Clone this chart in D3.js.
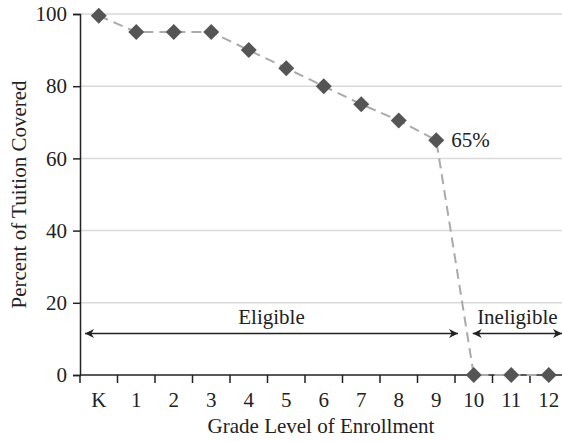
<!DOCTYPE html>
<html><head><meta charset="utf-8">
<script src="https://cdn.jsdelivr.net/npm/d3@7"></script>
<style>body{margin:0;background:#fff}svg{display:block}text{font-family:"Liberation Serif","Times New Roman",serif;fill:#222}</style>
</head><body><div id="c"></div>
<script>
const grades = ["K","1","2","3","4","5","6","7","8","9","10","11","12"];
const percentCovered = [99.5,95,95,95,90,85,80,75,70.5,65,0,0,0];
const yTicks = [0,20,40,60,80,100];
const eligibleRange = ["K","9"];
const ineligibleRange = ["10","12"];
const labelText = "65%";

const W=562,H=442;
const m={l:80,t:14,b:67};
const FS=21;
const svg=d3.select("#c").append("svg").attr("width",W).attr("height",H);
const x=d3.scaleBand().domain(grades).range([m.l,m.l+13*37.5]);
const y=d3.scaleLinear().domain([0,100]).range([H-m.b,m.t]);

// gridlines
svg.append("g").selectAll("line").data(yTicks.filter(d=>d>0)).join("line")
  .attr("x1",m.l).attr("x2",W).attr("y1",d=>y(d)).attr("y2",d=>y(d))
  .attr("stroke","#d9d9d9").attr("stroke-width",1.5);

// y axis
const ya=svg.append("g").attr("transform",`translate(${m.l},0)`)
  .call(d3.axisLeft(y).tickValues(yTicks).tickSize(7).tickPadding(6));
ya.select(".domain").attr("stroke","#222").attr("stroke-width",1.5);
ya.selectAll(".tick line").attr("stroke","#222").attr("stroke-width",1.5);
ya.selectAll("text").attr("font-size",FS).style("font-family","Liberation Serif").attr("fill","#222");

// x axis
const xa=svg.append("g").attr("transform",`translate(0,${y(0)})`);
xa.append("line").attr("x1",m.l).attr("x2",W).attr("stroke","#222").attr("stroke-width",1.5);
const bounds=grades.map(g=>x(g));
xa.selectAll(".tk").data(bounds).join("line").attr("class","tk")
  .attr("x1",d=>d).attr("x2",d=>d).attr("y1",0).attr("y2",8).attr("stroke","#222").attr("stroke-width",1.5);
xa.selectAll(".lb").data(grades).join("text").attr("class","lb")
  .attr("x",d=>x(d)+x.bandwidth()/2).attr("y",32).attr("text-anchor","middle").attr("font-size",FS).text(d=>d);

// line
const line=d3.line().x((d,i)=>x(grades[i])+x.bandwidth()/2).y(d=>y(d));
svg.append("path").datum(percentCovered).attr("d",line).attr("fill","none")
  .attr("stroke","#aaaaaa").attr("stroke-width",2).attr("stroke-dasharray","10,6");

// diamonds
svg.append("g").selectAll("path").data(percentCovered).join("path")
  .attr("d",d3.symbol(d3.symbolSquare,128)())
  .attr("transform",(d,i)=>`translate(${x(grades[i])+x.bandwidth()/2},${y(d)}) rotate(45)`)
  .attr("fill","#555555");

// 65% label
svg.append("text").attr("x",x("9")+x.bandwidth()/2+15).attr("y",y(65)+7).attr("font-size",FS).text(labelText);

// arrows
const defs=svg.append("defs");
defs.append("marker").attr("id","ah").attr("viewBox","0 0 10 10").attr("refX",10).attr("refY",5)
  .attr("markerWidth",12).attr("markerHeight",9).attr("markerUnits","userSpaceOnUse").attr("orient","auto-start-reverse")
  .append("path").attr("d","M0,0 L10,5 L0,10 L3,5 Z").attr("fill","#222");
const ay=y(11.5);
const e1=x(eligibleRange[0])+5, e2=x(eligibleRange[1])+x.bandwidth()+3;
svg.append("line").attr("x1",e1).attr("x2",e2).attr("y1",ay).attr("y2",ay)
  .attr("stroke","#222").attr("stroke-width",1.5).attr("marker-start","url(#ah)").attr("marker-end","url(#ah)");
const i1=x(ineligibleRange[0])+x.bandwidth()/2-1, i2=W;
svg.append("line").attr("x1",i1).attr("x2",i2).attr("y1",ay).attr("y2",ay)
  .attr("stroke","#222").attr("stroke-width",1.5).attr("marker-start","url(#ah)").attr("marker-end","url(#ah)");
svg.append("text").attr("x",(e1+e2)/2).attr("y",ay-9).attr("text-anchor","middle").attr("font-size",FS).text("Eligible");
svg.append("text").attr("x",(i1+i2)/2).attr("y",ay-9).attr("text-anchor","middle").attr("font-size",FS).text("Ineligible");

// titles
svg.append("text").attr("x",(m.l+W)/2).attr("y",433).attr("text-anchor","middle").attr("font-size",FS).text("Grade Level of Enrollment");
svg.append("text").attr("transform",`translate(26,${(m.t+y(0))/2}) rotate(-90)`).attr("text-anchor","middle").attr("font-size",FS).text("Percent of Tuition Covered");
</script></body></html>
